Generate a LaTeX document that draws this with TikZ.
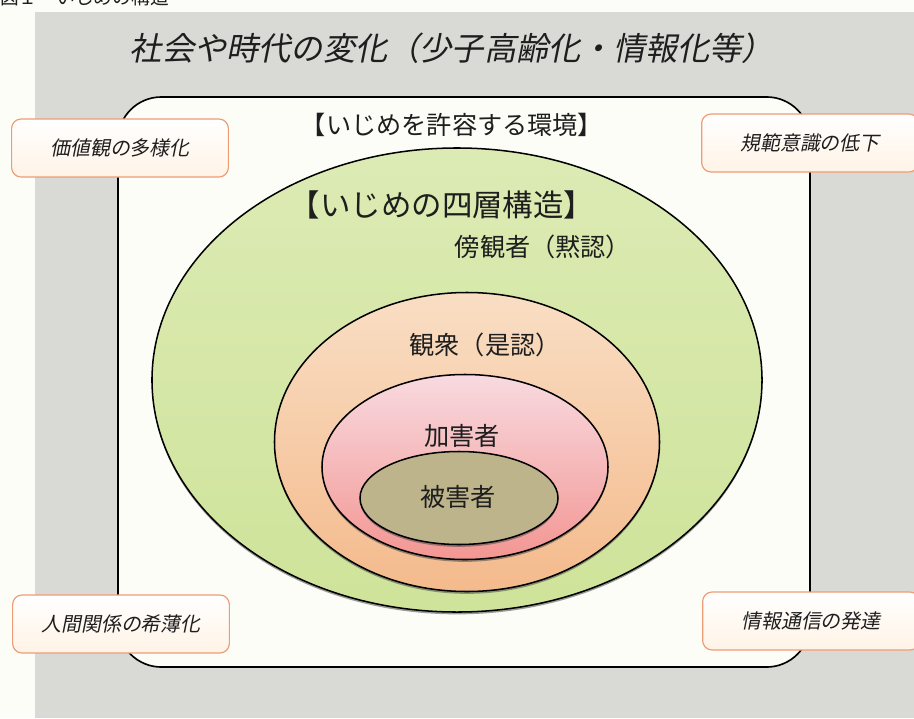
\documentclass[tikz,border=0pt]{standalone}
\usepackage{fontspec}
\setmainfont{Noto Sans CJK JP}
\newfontfamily\slantjp[FakeSlant=0.2]{Noto Sans CJK JP}
\usepackage{tikz}
\usetikzlibrary{shapes.geometric,shadows}

\definecolor{paper}{HTML}{FDFDF8}
\definecolor{bggray}{HTML}{D9D9D6}
\definecolor{inktext}{HTML}{1E1E1E}
\definecolor{boxline}{HTML}{EE9C76}
\definecolor{boxfill}{HTML}{FFF3E6}

\tikzset{
  frame/.style={rectangle, rounded corners=1.3cm, draw=black, line width=1.4pt, fill=paper, minimum width=20.76cm, minimum height=17.1cm},
  layer/.style={ellipse, draw=black, line width=1.3pt, inner sep=0pt,
    drop shadow={shadow xshift=0pt, shadow yshift=-2pt, opacity=0.55, fill=black!70}},
  cause/.style={rectangle, rounded corners=8pt, draw=boxline, line width=1pt, top color=white, bottom color=boxfill,
    minimum width=6.5cm, minimum height=1.74cm, text=inktext, font=\slantjp\fontsize{17}{20}\selectfont},
  layertext/.style={text=inktext, font=\fontsize{21.5}{24}\selectfont}
}

\begin{document}
\begin{tikzpicture}[x=0.03cm, y=-0.03cm]
\useasboundingbox (0,0) rectangle (914,718);
% Drawing background
\fill[paper] (0,0) rectangle (914,718);
\fill[bggray] (35,12) rectangle (914,718);
\node[anchor=base west, text=inktext, font=\fontsize{16}{20}\selectfont] (head) at (-4,4) {図１　いじめの構造};

% Drawing title
\node[text=inktext, font=\slantjp\fontsize{27.5}{30}\selectfont] (title) at (452,48) {社会や時代の変化（少子高齢化・情報化等）};

% Drawing environment frame
\node[frame] (env) at (464,382) {};
\node[text=inktext, font=\fontsize{21.5}{24}\selectfont] (envtext) at (452,125) {【いじめを許容する環境】};

% Drawing the four layers
\node[layer, top color={rgb,255:red,220;green,235;blue,180}, bottom color={rgb,255:red,207;green,227;blue,154},
  minimum width=18.3cm, minimum height=13.92cm] (bystander) at (457,380) {};
\node[layer, top color={rgb,255:red,249;green,222;blue,196}, bottom color={rgb,255:red,244;green,186;blue,140},
  minimum width=11.55cm, minimum height=8.97cm] (audience) at (467,442) {};
\node[layer, top color={rgb,255:red,248;green,218;blue,224}, bottom color={rgb,255:red,243;green,150;blue,146},
  minimum width=8.58cm, minimum height=5.55cm] (bully) at (465,467) {};
\node[layer, drop shadow={opacity=0}, fill={rgb,255:red,189;green,180;blue,139},
  minimum width=5.94cm, minimum height=2.79cm] (victim) at (459,498) {};

% Drawing layer labels
\node[text=inktext, font=\fontsize{26}{28}\selectfont] (fourtext) at (442,205) {【いじめの四層構造】};
\node[layertext] (bystandertext) at (543,247) {傍観者（黙認）};
\node[layertext] (audiencetext) at (485,345) {観衆（是認）};
\node[layertext] (bullytext) at (462,436) {加害者};
\node[layertext] (victimtext) at (458,497) {被害者};

% Drawing causes in the corners
\node[cause] (values) at (120,148) {価値観の多様化};
\node[cause] (norms) at (810,143) {規範意識の低下};
\node[cause] (relations) at (121,624) {人間関係の希薄化};
\node[cause] (media) at (811,621) {情報通信の発達};
\end{tikzpicture}
\end{document}
